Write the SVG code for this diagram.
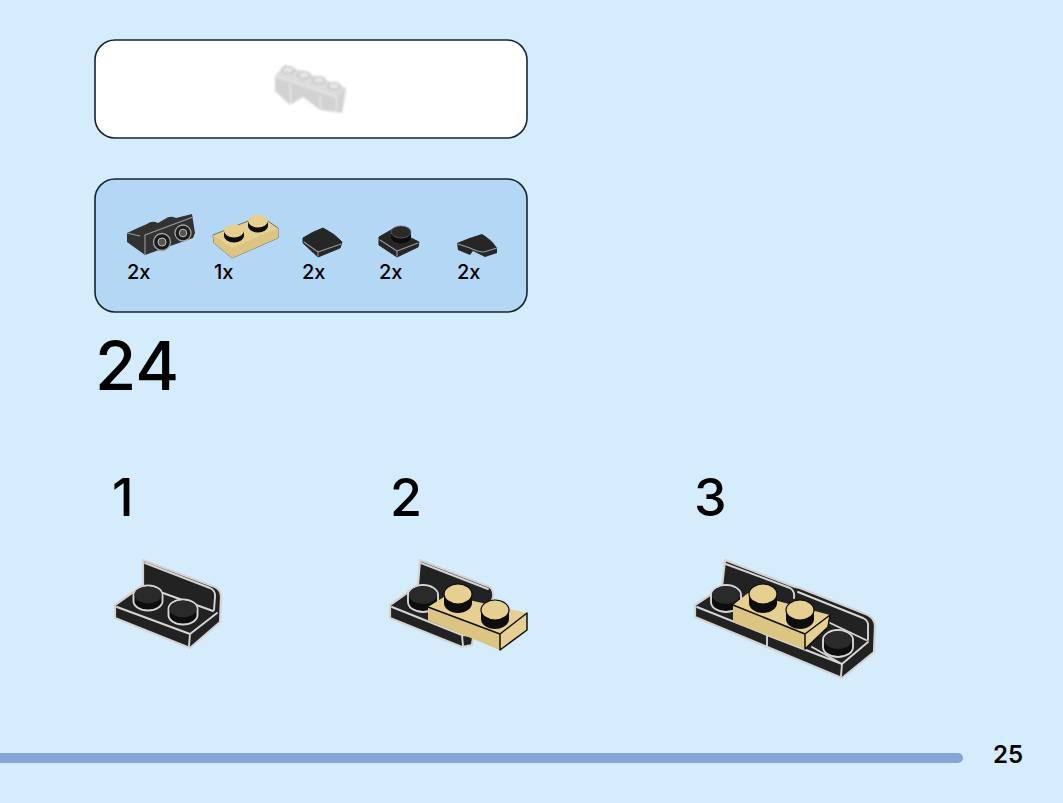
<svg xmlns="http://www.w3.org/2000/svg" width="1063" height="803" viewBox="0 0 1063 803">
<defs>
<filter id="soft" x="-10%" y="-10%" width="120%" height="120%"><feGaussianBlur stdDeviation="0.5"/></filter>
<filter id="softer" x="-10%" y="-10%" width="120%" height="120%"><feGaussianBlur stdDeviation="0.8"/></filter>
</defs>
<style>
text{font-family:"Inter","Liberation Sans",sans-serif;fill:#000}
.num{font-size:52px;font-weight:500}
.qty{font-size:20px;font-weight:500}
.card{stroke:#16242e;stroke-width:1.6}
.dk{fill:#222;stroke:#d4d4d4;stroke-width:2.2;stroke-linejoin:round}
.ln{fill:none;stroke:#d6d6d6;stroke-width:1.9;stroke-linecap:round;stroke-linejoin:round}
.ln2{fill:none;stroke:#9a9a9a;stroke-width:1.1;stroke-linecap:round;stroke-linejoin:round}
.blk{fill:#0b0b0b}
.ring{fill:#0b0b0b;stroke:#d6d6d6;stroke-width:1.9}
.stud{fill:#2a2a2a}
.tan{fill:#e6cf90}
.tand{fill:#dcc483}
.tanl{fill:none;stroke:#0d0d0d;stroke-width:1.5;stroke-linejoin:round}
.tt{fill:#e6cf90;stroke:#0b0b0b;stroke-width:1.2}
</style>
<rect width="1063" height="803" fill="#d4ecfc"/>

<g id="result-panel">
<rect class="card" x="95" y="40" width="432" height="98" rx="20" fill="#fff"/>
<g id="white-brick" filter="url(#softer)">
<path d="M275,76 L285,65 L346,88 L345,96 L342,113 L320,110 L303,97 L290,105 L275,91 Z" fill="#d2d2d2"/>
<path d="M275,76 L285,65 L346,88 L337,97 Z" fill="#dcdcdc"/>
<path d="M290,84 L291,104 M320,96 L321,110 M337,97 L336,112 M275,76 L337,97" fill="none" stroke="#eeeeee" stroke-width="1.1"/>
<g fill="#e6e6e6" stroke="#b5b5b5" stroke-width="1.2">
<ellipse cx="288" cy="70" rx="6" ry="3.500"/>
<ellipse cx="304" cy="75" rx="6" ry="3.500"/>
<ellipse cx="319" cy="80" rx="6" ry="3.500"/>
<ellipse cx="334" cy="86" rx="6" ry="3.500"/>
</g>
</g>
</g>

<g id="parts-panel">
<rect class="card" x="95" y="179" width="432" height="133" rx="20" fill="#b3d7f5"/>
<g id="part-bracket" filter="url(#soft)">
<path d="M127,233 L140,227 L147,224 Q152,220 158,223 L165,219 Q170,215 176,218 L192,214 L195,233 L193,238 L145,255 L127,242 Z" fill="#333"/>
<path d="M145,235 L193,217 M145,235 V255" class="ln2"/>
<path d="M127,233 L140,236" class="ln2"/>
<circle cx="162" cy="242" r="8.500" fill="#1e1e1e" stroke="#a5a5a5" stroke-width="1.3"/>
<circle cx="162" cy="242" r="4" fill="#555" stroke="#c0c0c0" stroke-width="1"/>
<circle cx="183" cy="233" r="8" fill="#1e1e1e" stroke="#a5a5a5" stroke-width="1.3"/>
<circle cx="183" cy="233" r="3.800" fill="#555" stroke="#c0c0c0" stroke-width="1"/>
</g>
<g id="part-tan-plate" filter="url(#soft)">
<path d="M213,235 L248,221 L265,219 L278,228 L278,238 L232,258 L214,243 Z" class="tan" stroke="#555" stroke-width="0.8"/>
<path d="M232,258 L232,248 L278,228 L278,238 Z" class="tand"/>
<path d="M213,235 L232,248 L232,258 L214,243 Z" class="tand"/>
<path d="M224,231 V236 A10,6.500 0 0 0 244,236 V231 Z" class="blk"/>
<ellipse cx="234" cy="231" rx="10" ry="6.500" fill="#e6cf90"/>
<path d="M248,221 V226 A10,6.500 0 0 0 268,226 V221 Z" class="blk"/>
<ellipse cx="258" cy="221" rx="10" ry="6.500" fill="#e6cf90"/>
</g>
<g id="part-tile" filter="url(#soft)">
<path d="M303,238 Q312,232 323,228 Q335,234 342,242 L340,248 L318,257 L303,243 Z" fill="#262626" stroke="#262626" stroke-linejoin="round"/>
<path d="M304,242 L318,252 L318,256 M318,252 L341,244" class="ln2"/>
</g>
<g id="part-plate" filter="url(#soft)">
<path d="M379,237 L393,229 L419,242 L418,247 L397,257 L379,245 Z" fill="#262626" stroke="#262626" stroke-linejoin="round"/>
<path d="M380,240 L397,251 L397,256 M397,251 L418,243" class="ln2"/>
<path d="M391,232 V237 A10,6.500 0 0 0 411,237 V232 Z" class="blk"/>
<ellipse cx="401" cy="232" rx="10" ry="6" fill="#2b2b2b" stroke="#666" stroke-width="0.8"/>
</g>
<g id="part-curve" filter="url(#soft)">
<path d="M457,243 Q468,238 482,234 Q492,240 497,248 L497,253 L485,257 L473,251 L470,255 L458,250 Z" fill="#262626"/>
<path d="M458,244 L470,248 Q478,252 484,252 L497,248" class="ln2"/>
</g>
<text class="qty" x="127" y="279">2x</text>
<text class="qty" x="214" y="279">1x</text>
<text class="qty" x="302" y="279">2x</text>
<text class="qty" x="379" y="279">2x</text>
<text class="qty" x="457" y="279">2x</text>
</g>

<text id="step-number" x="95" y="390" font-size="67" font-weight="500">24</text>

<g id="step-1">
<text class="num" x="112" y="516">1</text>
<g filter="url(#soft)">
<path class="dk" d="M143,560 L215,587 Q221,590 221,597 L220,622 L190,648 L115,618 L115,605 L143,585 Z"/>
<path class="ln" d="M145,563 L210,588 Q216,591 215,597 L214,610 M163,593 L213,611 M117,607 L190,634 L217,613 M190,634 L189,646"/>
<path class="ring" d="M133.500,595 A14.500,9.500 0 0 1 162.500,595 V601 A14.500,9.500 0 0 1 133.500,601 Z"/>
<ellipse class="stud" cx="148" cy="595" rx="13.500" ry="8.500"/>
<path class="ring" d="M168.500,609 A14.500,9.500 0 0 1 197.500,609 V615 A14.500,9.500 0 0 1 168.500,615 Z"/>
<ellipse class="stud" cx="183" cy="609" rx="13.500" ry="8.500"/>
</g>
</g>

<g id="step-2">
<text class="num" x="390" y="516">2</text>
<g filter="url(#soft)">
<path class="dk" d="M420,560 L490,587 Q494,590 493,598 L473,638 L472,645 L462,647 L390,618 L390,605 L418,585 Z"/>
<path class="ln" d="M421,563 L488,589 M392,607 L462,635 L463,646 M462,635 L473,636"/>
<path class="ring" d="M408,595 A15,10 0 0 1 438,595 V602 A15,10 0 0 1 408,602 Z"/>
<ellipse class="stud" cx="423" cy="595" rx="14" ry="9"/>
<path class="tan" d="M428,607 L447,595 L527,613 L527,630 L500,650 L428,620 Z"/>
<path class="tand" d="M428,607 L500,634 L500,650 L428,620 Z"/>
<path class="tan" d="M500,634 L527,613 L527,630 L500,650 Z"/>
<path class="tanl" d="M428,607 L500,634 L500,650 L527,630 L527,613 L500,634"/>
<path class="blk" d="M444,594 V603 A14,10 0 0 0 472,603 V594 Z"/>
<ellipse class="tt" cx="458" cy="594" rx="14" ry="10"/>
<path class="blk" d="M481,610 V619 A14,10 0 0 0 509,619 V610 Z"/>
<ellipse class="tt" cx="495" cy="610" rx="14" ry="10"/>
</g>
</g>

<g id="step-3">
<text class="num" x="694" y="516">3</text>
<g filter="url(#soft)">
<path class="dk" d="M725,560 L795,587 L800,588 L868,615 Q875,619 875,626 L874,652 L842,678 L695,617 L695,605 L722,587 Z"/>
<path class="ln" d="M723,563 L790,588 Q795,591 794,598 M798,592 L863,618 Q869,621 868,627 L868,640 M697,607 L767,635 L842,664 L868,642 M842,664 L841,676 M767,635 L767,647 M812,647 L842,664 M828,622 L866,640"/>
<path class="ring" d="M711,595 A15,10 0 0 1 741,595 V602 A15,10 0 0 1 711,602 Z"/>
<ellipse class="stud" cx="726" cy="595" rx="14" ry="9"/>
<path class="ring" d="M823,640 A15,10 0 0 1 853,640 V647 A15,10 0 0 1 823,647 Z"/>
<ellipse class="stud" cx="838" cy="640" rx="14" ry="9"/>
<path class="tan" d="M733,605 L748,593 L830,615 L828,627 L805,649 L733,622 Z"/>
<path class="tand" d="M733,605 L805,634 L805,649 L733,622 Z"/>
<path class="tan" d="M805,634 L830,615 L828,627 L805,649 Z"/>
<path class="tanl" d="M733,605 L805,634 L805,649 L828,627 L830,615 L805,634"/>
<path class="blk" d="M749,594 V603 A14,10 0 0 0 777,603 V594 Z"/>
<ellipse class="tt" cx="763" cy="594" rx="14" ry="10"/>
<path class="blk" d="M786,610 V619 A14,10 0 0 0 814,619 V610 Z"/>
<ellipse class="tt" cx="800" cy="610" rx="14" ry="10"/>
</g>
</g>

<g id="footer">
<path d="M0,753 H958 A5,5 0 0 1 958,763 H0 Z" fill="#85a5d9"/>
<text x="993" y="763" font-size="24" font-weight="600">25</text>
</g>
</svg>
